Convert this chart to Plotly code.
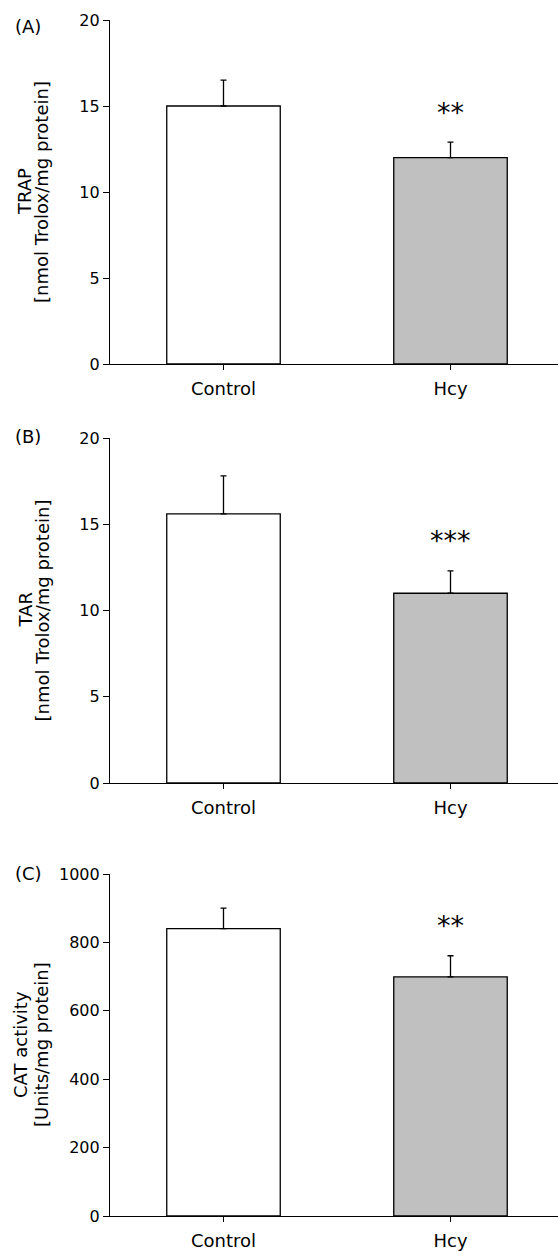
import plotly.graph_objects as go

W, H = 558, 1251

categories = ["Control", "Hcy"]

trap_mean = [15.0, 12.0]
trap_err = [1.5, 0.9]

tar_mean = [15.6, 11.0]
tar_err = [2.2, 1.3]

cat_mean = [840, 699]
cat_err = [60, 62]

sig_labels = ["**", "***", "**"]
panel_labels = ["(A)", "(B)", "(C)"]
y_title_1 = ["TRAP", "TAR", "CAT activity"]
y_title_2 = ["[nmol Trolox/mg protein]", "[nmol Trolox/mg protein]", "[Units/mg protein]"]
y_ranges = [[0, 20], [0, 20], [0, 1000]]
y_dtick = [5, 5, 200]

bar_colors = ["#ffffff", "#c0c0c0"]
FONT = "DejaVu Sans, Arial, sans-serif"

px_rows = [(20, 364), (438, 783), (874, 1216)]
label_y_px = [27, 437, 874]
title_x1_px = [25, 25, 20]
title_x2_px = [42, 42, 41]
x_left_px = 110

fig = go.Figure()

data = [(trap_mean, trap_err), (tar_mean, tar_err), (cat_mean, cat_err)]

for i, (means, errs) in enumerate(data):
    n = "" if i == 0 else str(i + 1)
    fig.add_trace(go.Bar(
        x=list(range(len(categories))), y=means,
        width=0.5,
        marker=dict(color=bar_colors, line=dict(color="black", width=1.3)),
        error_y=dict(type="data", symmetric=False, array=errs,
                     arrayminus=[0] * len(errs), color="black",
                     thickness=1.3, width=3),
        xaxis="x" + n, yaxis="y" + n, showlegend=False,
        hoverinfo="skip",
    ))
    top, bot = px_rows[i]
    dom = [1 - bot / H, 1 - top / H]
    fig.update_layout(**{
        "xaxis" + n: dict(
            domain=[x_left_px / W, 1], anchor="y" + n, automargin=False,
            range=[-0.5, -0.5 + (W - x_left_px) / 227.0],
            tickmode="array", tickvals=list(range(len(categories))),
            ticktext=categories, ticks="outside", ticklen=5, tickwidth=1,
            ticklabelstandoff=3,
            tickcolor="black", showline=True, linecolor="black", linewidth=1.2,
            showgrid=False, zeroline=False,
            tickfont=dict(family=FONT, size=18, color="black"),
        ),
        "yaxis" + n: dict(
            domain=dom, anchor="x" + n, automargin=False, range=y_ranges[i],
            dtick=y_dtick[i], tick0=0, ticks="outside", ticklen=6, tickwidth=1,
            tickcolor="black", showline=True, linecolor="black", linewidth=1.2,
            showgrid=False, zeroline=False,
            tickfont=dict(family=FONT, size=16, color="black"),
        ),
    })
    fig.add_annotation(
        x=1, y=means[1] + errs[1], xref="x" + n, yref="y" + n,
        text=sig_labels[i], showarrow=False, yshift=30, yanchor="middle",
        font=dict(family=FONT, size=27, color="black"),
    )
    fig.add_annotation(
        x=13 / W, y=1 - label_y_px[i] / H, xref="paper", yref="paper",
        text=panel_labels[i], showarrow=False, xanchor="left", yanchor="middle",
        font=dict(family=FONT, size=18, color="black"),
    )
    for tx, txt in ((title_x1_px[i], y_title_1[i]), (title_x2_px[i], y_title_2[i])):
        fig.add_annotation(
            x=tx / W, y=1 - (top + bot) / 2 / H, xref="paper", yref="paper",
            text=txt, showarrow=False, textangle=-90,
            xanchor="center", yanchor="middle",
            font=dict(family=FONT, size=18, color="black"),
        )

fig.update_layout(
    width=W, height=H,
    margin=dict(l=0, r=0, t=0, b=0, autoexpand=False),
    paper_bgcolor="white", plot_bgcolor="white",
    bargap=0.5,
)

fig.write_html("out.html")
